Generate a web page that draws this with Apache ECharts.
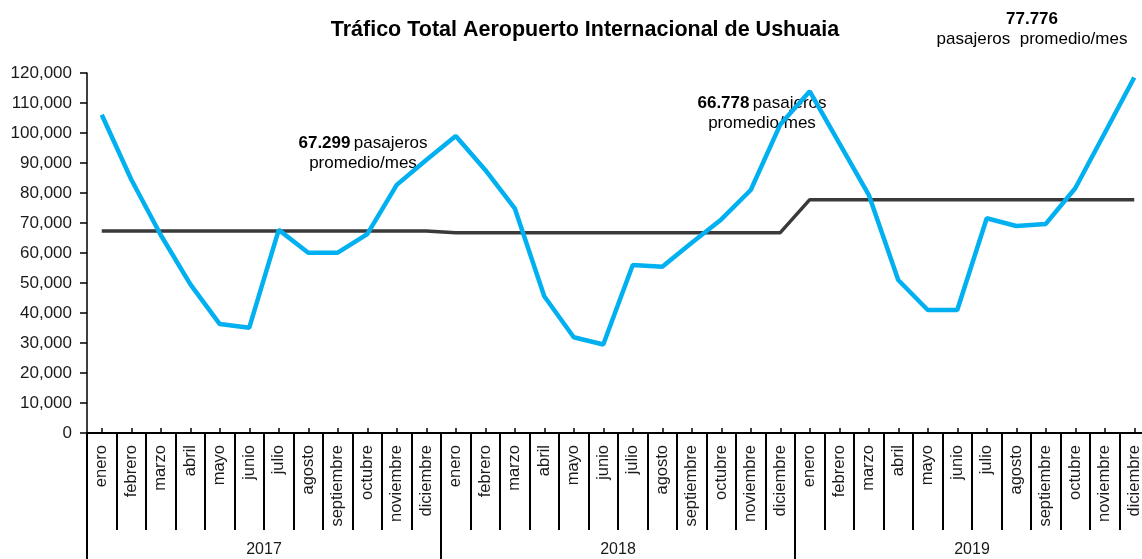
<!DOCTYPE html>
<html>
<head>
<meta charset="utf-8">
<script src="https://cdn.jsdelivr.net/npm/echarts@6/dist/echarts.min.js"></script>
<style>html,body{margin:0;padding:0;background:#fff;}#c{width:1142px;height:559px;}</style>
</head>
<body>
<div id="c"></div>
<script>
const months = ['enero','febrero','marzo','abril','mayo','junio','julio','agosto','septiembre','octubre','noviembre','diciembre',
  'enero','febrero','marzo','abril','mayo','junio','julio','agosto','septiembre','octubre','noviembre','diciembre',
  'enero','febrero','marzo','abril','mayo','junio','julio','agosto','septiembre','octubre','noviembre','diciembre'];
const years = ['2017','2018','2019'];
const traffic = [106100, 84500, 66000, 49600, 36300, 35100, 67700, 60100, 60100, 66300, 82700, 91000,
  99000, 87700, 74900, 45600, 31900, 29500, 56000, 55400, 63400, 71200, 81000, 102800,
  113900, 96600, 79400, 51000, 41000, 41000, 71600, 69000, 69700, 81600, 100000, 118500];
const monthlyAverage = [67299, 67299, 67299, 67299, 67299, 67299, 67299, 67299, 67299, 67299, 67299, 67299,
  66778, 66778, 66778, 66778, 66778, 66778, 66778, 66778, 66778, 66778, 66778, 66778,
  77776, 77776, 77776, 77776, 77776, 77776, 77776, 77776, 77776, 77776, 77776, 77776];
const yTicks = [0, 120000, 10000];

const FONT = '"Liberation Sans", Arial, sans-serif';
const TXT = '#1a1a1a';
const chart = echarts.init(document.getElementById('c'), null, {renderer: 'canvas'});
const fmt = v => v.toString().replace(/\B(?=(\d{3})+(?!\d))/g, ',');
const rich = {b: {fontFamily: FONT, fontSize: 17, fontWeight: 'bold', color: TXT}, n: {fontFamily: FONT, fontSize: 17, color: TXT}};

chart.setOption({
  animation: false,
  backgroundColor: '#fff',
  grid: {left: 87, top: 73, width: 1062, height: 360, containLabel: false, outerBoundsMode: 'none'},
  xAxis: [
    {type: 'category', data: months, position: 'bottom', boundaryGap: true,
      axisLine: {show: true, lineStyle: {color: '#000', width: 2}},
      axisTick: {show: true, interval: 0, inside: false, length: 97, lineStyle: {color: '#000', width: 2}},
      axisLabel: {interval: 0, rotate: 90, margin: 12, fontFamily: FONT, fontSize: 16.5, color: TXT},
      splitLine: {show: false}},
    {type: 'category', data: months, position: 'bottom', boundaryGap: true,
      axisLine: {show: false},
      axisTick: {show: true, interval: 0, alignWithLabel: true, inside: true, length: 5, lineStyle: {color: '#000', width: 1.5}},
      axisLabel: {show: false}, splitLine: {show: false}},
    {type: 'category', data: years, position: 'bottom', boundaryGap: true,
      axisLine: {show: false},
      axisTick: {show: true, interval: 0, inside: false, length: 130, lineStyle: {color: '#000', width: 2}},
      axisLabel: {interval: 0, margin: 109, fontFamily: FONT, fontSize: 16, color: TXT},
      splitLine: {show: false}}
  ],
  yAxis: {type: 'value', min: yTicks[0], max: yTicks[1], interval: yTicks[2],
    axisLine: {show: true, lineStyle: {color: '#000', width: 1.5}},
    axisTick: {show: true, inside: false, length: 7, lineStyle: {color: '#000', width: 1.5}},
    axisLabel: {margin: 15, fontFamily: FONT, fontSize: 17, color: TXT, formatter: fmt},
    splitLine: {show: false}},
  series: [
    {name: 'Promedio', type: 'line', xAxisIndex: 0, data: monthlyAverage, symbol: 'none', z: 2,
      lineStyle: {color: '#3a3a3a', width: 3.5}},
    {name: 'Tráfico', type: 'line', xAxisIndex: 0, data: traffic, symbol: 'none', z: 3,
      lineStyle: {color: '#00B0F0', width: 4.5}}
  ],
  graphic: [
    {type: 'text', x: 585, y: 30, style: {text: 'Tráfico Total Aeropuerto Internacional de Ushuaia', fontFamily: FONT, fontSize: 21.5, fontWeight: 'bold', fill: '#000', align: 'center', verticalAlign: 'middle'}},
    {type: 'text', x: 363, y: 153, style: {text: '{b|67.299} {n|pasajeros}\n{n|promedio/mes}', rich: rich, align: 'center', verticalAlign: 'middle', lineHeight: 20}},
    {type: 'text', x: 762, y: 113, style: {text: '{b|66.778} {n|pasajeros}\n{n|promedio/mes}', rich: rich, align: 'center', verticalAlign: 'middle', lineHeight: 20}},
    {type: 'text', x: 1032, y: 29, style: {text: '{b|77.776}\n{n|pasajeros  promedio/mes}', rich: rich, align: 'center', verticalAlign: 'middle', lineHeight: 20}}
  ]
});
</script>
</body>
</html>
